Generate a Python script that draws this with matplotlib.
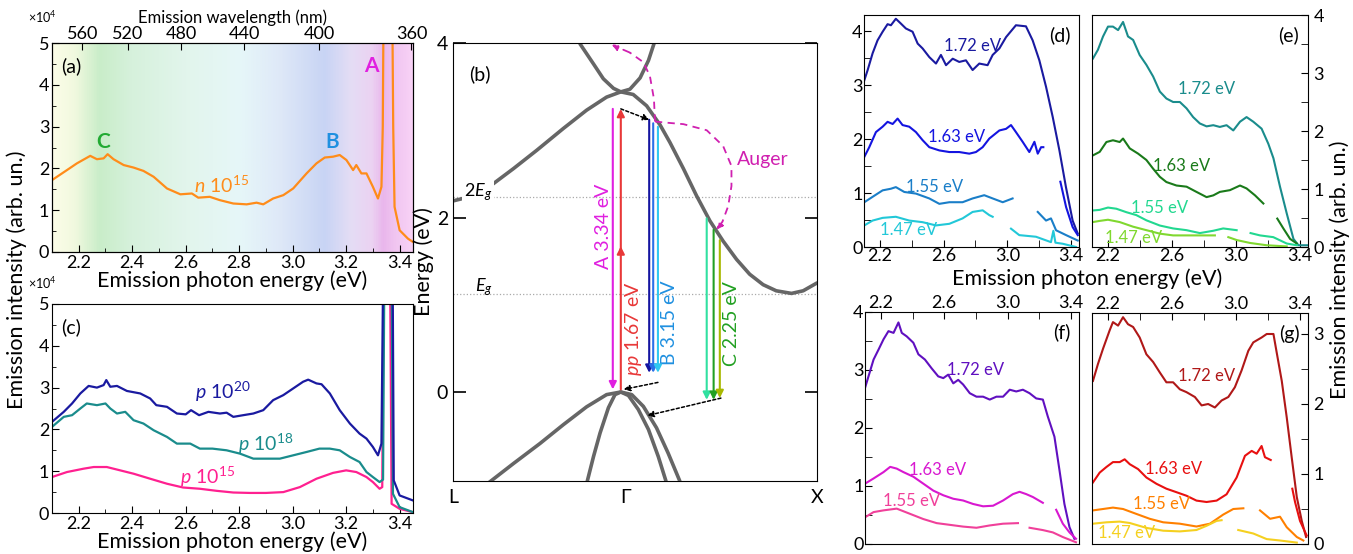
import numpy as np
import matplotlib
matplotlib.use("Agg")
import matplotlib.pyplot as plt
from matplotlib.colors import LinearSegmentedColormap
from matplotlib.ticker import MultipleLocator

plt.rcParams['font.family'] = ['Lato', 'DejaVu Sans']
plt.rcParams['mathtext.fontset'] = 'custom'
plt.rcParams['mathtext.rm'] = 'Lato'
plt.rcParams['mathtext.it'] = 'Lato:italic'
plt.rcParams['xtick.direction'] = 'in'
plt.rcParams['ytick.direction'] = 'in'

# ---------------- panel (a): n 1e15 spectrum (units of 1e4)
a_E = [2.10, 2.156, 2.193, 2.243, 2.268, 2.293, 2.308, 2.33, 2.368, 2.405, 2.442, 2.48, 2.53, 2.58,
       2.623, 2.647, 2.69, 2.728, 2.778, 2.828, 2.865, 2.89, 2.927, 2.965, 3.002, 3.052, 3.089, 3.12,
       3.151, 3.176, 3.201, 3.226, 3.238, 3.257, 3.276, 3.30, 3.319, 3.332, 3.337, 3.342, 3.37, 3.376,
       3.381, 3.40, 3.431, 3.45]
a_I = [1.72, 1.96, 2.12, 2.30, 2.22, 2.24, 2.34, 2.22, 2.08, 2.02, 1.94, 1.80, 1.52, 1.38,
       1.40, 1.30, 1.32, 1.24, 1.16, 1.14, 1.18, 1.14, 1.28, 1.36, 1.52, 1.88, 2.12, 2.26,
       2.28, 2.32, 2.20, 1.96, 2.08, 1.88, 1.88, 1.56, 1.28, 1.56, 3.0, 8.0, 8.0, 3.0,
       1.08, 0.52, 0.32, 0.24]
wl_ticks = [560, 520, 480, 440, 400, 360]

# ---------------- panel (c): p-type spectra
c_E20 = [2.10, 2.144, 2.175, 2.206, 2.237, 2.268, 2.293, 2.303, 2.318, 2.343, 2.38, 2.43, 2.467, 2.49,
         2.53, 2.567, 2.60, 2.62, 2.65, 2.685, 2.728, 2.753, 2.778, 2.815, 2.853, 2.89, 2.927, 2.965,
         3.002, 3.039, 3.058, 3.089, 3.108, 3.139, 3.176, 3.214, 3.25, 3.276, 3.30, 3.319, 3.332,
         3.342, 3.35, 3.372, 3.378, 3.40, 3.45]
c_I20 = [2.18, 2.42, 2.62, 2.86, 3.04, 3.00, 3.06, 3.18, 3.02, 3.04, 2.92, 2.86, 2.74, 2.58,
         2.54, 2.38, 2.36, 2.46, 2.34, 2.42, 2.38, 2.40, 2.30, 2.34, 2.38, 2.46, 2.70, 2.82,
         2.98, 3.14, 3.19, 3.10, 3.08, 2.86, 2.46, 2.14, 1.90, 1.78, 1.58, 1.38, 1.66,
         8.0, 8.0, 8.0, 0.78, 0.42, 0.30]
c_E18 = [2.10, 2.144, 2.175, 2.206, 2.23, 2.268, 2.30, 2.318, 2.343, 2.374, 2.405, 2.442, 2.48, 2.53,
         2.567, 2.617, 2.653, 2.70, 2.753, 2.803, 2.853, 2.90, 2.952, 3.002, 3.052, 3.10, 3.139,
         3.176, 3.214, 3.25, 3.276, 3.30, 3.325, 3.338, 3.345, 3.368, 3.375, 3.40, 3.45]
c_I18 = [2.06, 2.30, 2.34, 2.50, 2.62, 2.58, 2.62, 2.50, 2.38, 2.42, 2.22, 2.14, 1.98, 1.82,
         1.66, 1.66, 1.54, 1.54, 1.50, 1.42, 1.30, 1.30, 1.30, 1.38, 1.46, 1.54, 1.54,
         1.50, 1.34, 1.22, 0.98, 0.86, 0.74, 0.80, 8.0, 8.0, 0.46, 0.14, 0.02]
c_E15 = [2.10, 2.156, 2.218, 2.256, 2.305, 2.355, 2.405, 2.467, 2.53, 2.59, 2.653, 2.716, 2.778, 2.84,
         2.90, 2.965, 3.027, 3.089, 3.151, 3.20, 3.238, 3.276, 3.30, 3.325, 3.335, 3.342, 3.362,
         3.37, 3.40, 3.45]
c_I15 = [0.86, 0.98, 1.06, 1.10, 1.10, 1.02, 0.94, 0.82, 0.70, 0.61, 0.58, 0.53, 0.49, 0.48,
         0.48, 0.50, 0.62, 0.82, 0.96, 1.02, 0.98, 0.86, 0.74, 0.58, 0.62, 8.0, 8.0,
         0.22, 0.10, 0.02]

# ---------------- panel (b): bands of Si along L-Gamma-X (k normalised 0..1)
k_gamma = 0.461
cb1_k = [0.0, 0.029, 0.066, 0.102, 0.166, 0.230, 0.303, 0.367, 0.422, 0.461, 0.495, 0.532, 0.569,
         0.596, 0.633, 0.669, 0.706, 0.742, 0.779, 0.815, 0.852, 0.888, 0.930, 0.962, 1.0]
cb1_E = [2.19, 2.22, 2.28, 2.36, 2.56, 2.77, 3.02, 3.23, 3.38, 3.44, 3.41, 3.28, 3.06,
         2.86, 2.56, 2.25, 1.96, 1.73, 1.52, 1.35, 1.23, 1.16, 1.13, 1.16, 1.25]
cb2_k = [0.349, 0.386, 0.413, 0.441, 0.461, 0.486, 0.514, 0.537, 0.552]
cb2_E = [3.99, 3.76, 3.59, 3.48, 3.44, 3.47, 3.60, 3.80, 3.99]
hh_k = [0.098, 0.166, 0.239, 0.303, 0.367, 0.422, 0.461, 0.491, 0.523, 0.559, 0.591, 0.623]
hh_E = [-1.04, -0.82, -0.59, -0.375, -0.17, -0.03, 0.0, -0.03, -0.165, -0.41, -0.70, -1.02]
lh_k = [0.369, 0.386, 0.404, 0.427, 0.445, 0.461, 0.482, 0.509, 0.537, 0.564, 0.585]
lh_E = [-1.02, -0.74, -0.47, -0.18, -0.03, 0.0, -0.04, -0.20, -0.43, -0.74, -1.02]
Eg = 1.12
auger1_k = [0.555, 0.552, 0.541, 0.523, 0.486, 0.436]
auger1_E = [3.10, 3.36, 3.62, 3.78, 3.89, 3.98]
auger2_k = [0.555, 0.578, 0.633, 0.697, 0.742, 0.765, 0.765, 0.756, 0.740, 0.724]
auger2_E = [3.10, 3.09, 3.07, 3.00, 2.82, 2.59, 2.36, 2.13, 1.95, 1.86]

# ---------------- panels (d)-(g): two-photon excited spectra
d_E172 = [2.102, 2.123, 2.154, 2.185, 2.217, 2.248, 2.269, 2.30, 2.332, 2.363, 2.405, 2.437, 2.468,
          2.51, 2.552, 2.583, 2.615, 2.657, 2.698, 2.74, 2.782, 2.824, 2.876, 2.908, 2.95, 2.992,
          3.054, 3.117, 3.159, 3.201, 3.243, 3.285, 3.327, 3.368, 3.41, 3.442]
d_I172 = [3.09, 3.28, 3.59, 3.83, 3.99, 4.13, 4.11, 4.23, 4.14, 4.05, 3.99, 3.77, 3.68,
          3.52, 3.40, 3.56, 3.37, 3.49, 3.43, 3.46, 3.28, 3.40, 3.37, 3.56, 3.68, 3.89,
          4.11, 4.09, 3.83, 3.46, 2.97, 2.41, 1.79, 1.11, 0.49, 0.25]
d_E163 = [2.102, 2.133, 2.175, 2.217, 2.248, 2.28, 2.311, 2.342, 2.384, 2.426, 2.468, 2.51, 2.573,
          2.636, 2.698, 2.761, 2.803, 2.845, 2.887, 2.95, 2.992, 3.023, 3.054, 3.096, 3.138, 3.17,
          3.191, 3.212, 3.226]
d_I163 = [1.67, 1.85, 2.13, 2.23, 2.32, 2.28, 2.38, 2.26, 2.23, 2.13, 1.98, 1.85, 1.79,
          1.76, 1.76, 1.73, 1.76, 1.85, 2.01, 2.16, 2.19, 2.26, 2.13, 1.95, 1.76, 1.95,
          1.73, 1.85, 1.85]
d_E163t = [3.333, 3.369, 3.41, 3.442]
d_I163t = [1.21, 0.74, 0.37, 0.22]
d_E155 = [2.102, 2.154, 2.217, 2.269, 2.30, 2.353, 2.426, 2.51, 2.573, 2.636, 2.719, 2.782, 2.855,
          2.908, 2.971, 3.033]
d_I155 = [0.83, 0.93, 1.05, 1.08, 1.11, 1.02, 0.99, 0.90, 0.80, 0.83, 0.83, 0.90, 0.96,
          0.90, 0.83, 0.90]
d_E155t = [3.191, 3.243, 3.274, 3.306, 3.369, 3.442]
d_I155t = [0.65, 0.49, 0.53, 0.31, 0.22, 0.12]
d_E147 = [2.102, 2.154, 2.217, 2.30, 2.384, 2.468, 2.552, 2.636, 2.719, 2.782, 2.845, 2.887, 2.908]
d_I147 = [0.40, 0.49, 0.54, 0.56, 0.49, 0.46, 0.40, 0.43, 0.53, 0.65, 0.68, 0.59, 0.56]
d_E147t = [3.023, 3.075, 3.18, 3.274, 3.289, 3.302, 3.348, 3.431]
d_I147t = [0.34, 0.22, 0.19, 0.09, 0.30, 0.08, 0.06, 0.0]

e_E172 = [2.106, 2.137, 2.169, 2.20, 2.231, 2.263, 2.294, 2.325, 2.357, 2.398, 2.44, 2.482, 2.524,
          2.565, 2.607, 2.649, 2.691, 2.732, 2.774, 2.816, 2.858, 2.899, 2.941, 2.983, 3.025,
          3.066, 3.108, 3.16, 3.202, 3.234, 3.275, 3.317, 3.359, 3.39, 3.448]
e_I172 = [3.25, 3.40, 3.63, 3.80, 3.80, 3.74, 3.88, 3.63, 3.57, 3.31, 3.14, 2.94, 2.68,
          2.56, 2.50, 2.50, 2.39, 2.24, 2.13, 2.08, 2.10, 2.07, 2.10, 2.01, 2.16,
          2.24, 2.16, 2.04, 1.78, 1.53, 1.04, 0.58, 0.14, 0.03, 0.03]
e_E163 = [2.106, 2.148, 2.19, 2.231, 2.273, 2.294, 2.336, 2.388, 2.44, 2.482, 2.524, 2.565, 2.628,
          2.691, 2.753, 2.816, 2.858, 2.899, 2.962, 3.025, 3.066, 3.119, 3.171]
e_I163 = [1.58, 1.64, 1.81, 1.84, 1.81, 1.87, 1.70, 1.61, 1.50, 1.35, 1.21, 1.12, 1.06,
          1.04, 0.95, 0.86, 0.89, 0.95, 0.98, 1.06, 1.01, 0.89, 0.75]
e_E163t = [3.258, 3.296, 3.338, 3.38]
e_I163t = [0.49, 0.32, 0.14, 0.06]
e_E155 = [2.106, 2.148, 2.20, 2.252, 2.315, 2.377, 2.44, 2.524, 2.607, 2.691, 2.774, 2.858, 2.92, 3.004]
e_I155 = [0.63, 0.64, 0.68, 0.66, 0.60, 0.55, 0.46, 0.37, 0.32, 0.29, 0.24, 0.28, 0.32, 0.29]
e_E155t = [3.091, 3.15, 3.233, 3.317, 3.38]
e_I155t = [0.24, 0.20, 0.17, 0.06, 0.03]
e_E147 = [2.106, 2.148, 2.20, 2.273, 2.357, 2.44, 2.524, 2.607, 2.691, 2.774, 2.868]
e_I147 = [0.43, 0.45, 0.47, 0.43, 0.35, 0.29, 0.23, 0.20, 0.20, 0.20, 0.20]
e_E147t = [2.952, 3.004, 3.087, 3.192, 3.317]
e_I147t = [0.17, 0.12, 0.07, 0.03, 0.01]

f_E172 = [2.10, 2.122, 2.154, 2.185, 2.217, 2.248, 2.28, 2.311, 2.332, 2.363, 2.405, 2.437, 2.478,
          2.52, 2.562, 2.594, 2.625, 2.657, 2.688, 2.719, 2.761, 2.803, 2.845, 2.887, 2.929, 2.971,
          3.013, 3.054, 3.096, 3.138, 3.18, 3.222, 3.253, 3.295, 3.327, 3.358, 3.39, 3.421]
f_I172 = [2.69, 2.89, 3.18, 3.35, 3.53, 3.67, 3.64, 3.82, 3.64, 3.58, 3.47, 3.27, 3.18,
          3.03, 2.89, 2.86, 2.92, 2.77, 2.83, 2.75, 2.60, 2.54, 2.54, 2.49, 2.54, 2.54,
          2.66, 2.63, 2.66, 2.60, 2.51, 2.49, 2.20, 1.85, 1.27, 0.69, 0.29, 0.09]
f_E163 = [2.10, 2.154, 2.217, 2.259, 2.30, 2.342, 2.405, 2.468, 2.531, 2.594, 2.657, 2.719, 2.782,
          2.845, 2.908, 2.971, 3.033, 3.075, 3.117, 3.159, 3.222]
f_I163 = [1.04, 1.13, 1.24, 1.33, 1.30, 1.24, 1.16, 1.04, 0.92, 0.84, 0.78, 0.75, 0.69,
          0.65, 0.66, 0.75, 0.86, 0.90, 0.86, 0.81, 0.71]
f_E163t = [3.306, 3.348, 3.39, 3.431]
f_I163t = [0.59, 0.35, 0.20, 0.09]
f_E155 = [2.10, 2.154, 2.217, 2.30, 2.384, 2.468, 2.552, 2.636, 2.719, 2.803, 2.887, 2.971, 3.065]
f_I155 = [0.46, 0.55, 0.58, 0.61, 0.52, 0.43, 0.36, 0.33, 0.30, 0.28, 0.32, 0.35, 0.36]
f_E155t = [3.138, 3.222, 3.285, 3.348, 3.431]
f_I155t = [0.28, 0.24, 0.20, 0.12, 0.03]

g_E172 = [2.106, 2.137, 2.169, 2.21, 2.231, 2.263, 2.294, 2.325, 2.357, 2.398, 2.44, 2.482, 2.524,
          2.565, 2.607, 2.649, 2.69, 2.743, 2.785, 2.826, 2.868, 2.91, 2.952, 2.993, 3.035, 3.077,
          3.108, 3.16, 3.192, 3.234, 3.254, 3.286, 3.317, 3.348, 3.38, 3.411, 3.438]
g_I172 = [2.33, 2.57, 2.79, 3.05, 3.17, 3.12, 3.24, 3.14, 3.10, 2.95, 2.71, 2.60, 2.45,
          2.31, 2.31, 2.21, 2.17, 2.10, 1.98, 2.00, 1.95, 2.05, 2.10, 2.24, 2.48, 2.76,
          2.88, 2.95, 3.00, 3.00, 2.74, 2.33, 1.81, 1.24, 0.67, 0.33, 0.10]
g_E163 = [2.106, 2.148, 2.19, 2.231, 2.273, 2.304, 2.336, 2.388, 2.44, 2.503, 2.565, 2.628, 2.69,
          2.753, 2.816, 2.879, 2.941, 3.004, 3.056, 3.098, 3.129, 3.16, 3.181, 3.217]
g_I163 = [0.88, 1.02, 1.10, 1.17, 1.17, 1.21, 1.14, 1.07, 0.95, 0.86, 0.79, 0.74, 0.69,
          0.62, 0.60, 0.62, 0.71, 0.95, 1.26, 1.33, 1.29, 1.40, 1.24, 1.20]
g_E163t = [3.352, 3.369, 3.40, 3.442]
g_I163t = [0.79, 0.60, 0.33, 0.12]
g_E155 = [2.106, 2.169, 2.231, 2.294, 2.377, 2.461, 2.545, 2.649, 2.753, 2.837, 2.92, 2.983, 3.046]
g_I155 = [0.48, 0.50, 0.52, 0.50, 0.43, 0.36, 0.31, 0.29, 0.25, 0.29, 0.42, 0.50, 0.51]
g_E155t = [3.15, 3.213, 3.275, 3.317, 3.38, 3.421]
g_I155t = [0.48, 0.36, 0.39, 0.24, 0.10, 0.05]
g_E147 = [2.106, 2.19, 2.273, 2.336, 2.44, 2.545, 2.649, 2.753, 2.816, 2.879, 2.91]
g_I147 = [0.29, 0.31, 0.32, 0.30, 0.23, 0.19, 0.18, 0.20, 0.26, 0.33, 0.34]
g_E147t = [3.014, 3.108, 3.192, 3.275, 3.38]
g_I147t = [0.20, 0.15, 0.07, 0.05, 0.02]

W, H = 1353, 554
fig = plt.figure(figsize=(W / 100, H / 100), dpi=100)


def px_axes(l, t, r, b):
    return fig.add_axes([l / W, 1 - b / H, (r - l) / W, (b - t) / H])


TICK = 13
LAB = 15.5

# ---------- (a)
ax_a = px_axes(52, 43, 413, 252)
bg = LinearSegmentedColormap.from_list('spec', [
    (0.0, '#fcfde8'), (0.06, '#f1f9df'), (0.13, '#c9edc9'), (0.22, '#d6f1dc'),
    (0.37, '#e2f5ec'), (0.52, '#e6f7f8'), (0.63, '#dfe9f8'), (0.757, '#c8d4f4'),
    (0.83, '#e4ddf5'), (0.89, '#ecd2f2'), (0.92, '#e9b6ec'), (0.95, '#f0c4f0'), (1.0, '#f8d2f6')])
ax_a.imshow(np.linspace(0, 1, 400)[None, :], cmap=bg, aspect='auto',
            extent=[2.1, 3.45, 0, 5], zorder=0)
ax_a.plot(a_E, a_I, color='#ff8c1a', lw=1.6, zorder=2)
ax_a.set_xlim(2.1, 3.45)
ax_a.set_ylim(0, 5)
ax_a.xaxis.set_major_locator(MultipleLocator(0.2))
ax_a.xaxis.set_minor_locator(MultipleLocator(0.1))
ax_a.yaxis.set_major_locator(MultipleLocator(1))
ax_a.yaxis.set_minor_locator(MultipleLocator(0.5))
ax_a.tick_params(labelsize=TICK, length=5, top=False, pad=2)
ax_a.tick_params(which='minor', length=3, top=False)
ax_a.set_xlabel('Emission photon energy (eV)', fontsize=LAB, labelpad=0)
ax_a.text(0.025, 0.93, '(a)', transform=ax_a.transAxes, fontsize=14, va='top')
ax_a.text(2.29, 2.62, 'C', color='#22aa33', fontsize=15, fontweight='bold', ha='center', va='center')
ax_a.text(3.149, 2.62, 'B', color='#2090e0', fontsize=15, fontweight='bold', ha='center', va='center')
ax_a.text(3.295, 4.45, 'A', color='#e020e0', fontsize=15, fontweight='bold', ha='center', va='center')
ax_a.text(2.735, 1.6, r'$\mathit{n}$ 10$^{15}$', color='#ff8c1a', fontsize=14, ha='center', va='center')
top = ax_a.twiny()
top.set_xlim(2.1, 3.45)
top.set_xticks([1239.84 / w for w in wl_ticks])
top.set_xticklabels([str(w) for w in wl_ticks])
top.tick_params(labelsize=TICK, length=5, pad=1)
top.set_xlabel('Emission wavelength (nm)', fontsize=12, labelpad=2)
fig.text(28 / W, 1 - 17 / H, '×10$^4$', fontsize=9, va='center')

# ---------- (c)
ax_c = px_axes(52, 304, 413, 513)
ax_c.plot(c_E15, c_I15, color='#ff2090', lw=1.6)
ax_c.plot(c_E18, c_I18, color='#1a8c8c', lw=1.6)
ax_c.plot(c_E20, c_I20, color='#1a1aa0', lw=1.6)
ax_c.set_xlim(2.1, 3.45)
ax_c.set_ylim(0, 5)
ax_c.xaxis.set_major_locator(MultipleLocator(0.2))
ax_c.xaxis.set_minor_locator(MultipleLocator(0.1))
ax_c.yaxis.set_major_locator(MultipleLocator(1))
ax_c.yaxis.set_minor_locator(MultipleLocator(0.5))
ax_c.tick_params(labelsize=TICK, length=5, pad=2)
ax_c.tick_params(which='minor', length=3)
ax_c.set_xlabel('Emission photon energy (eV)', fontsize=LAB, labelpad=0)
ax_c.text(0.025, 0.93, '(c)', transform=ax_c.transAxes, fontsize=14, va='top')
ax_c.text(2.74, 2.9, r'$\mathit{p}$ 10$^{20}$', color='#1a1aa0', fontsize=14, ha='center', va='center')
ax_c.text(2.90, 1.66, r'$\mathit{p}$ 10$^{18}$', color='#1a8c8c', fontsize=14, ha='center', va='center')
ax_c.text(2.68, 0.86, r'$\mathit{p}$ 10$^{15}$', color='#ff2090', fontsize=14, ha='center', va='center')
fig.text(28 / W, 1 - 283 / H, '×10$^4$', fontsize=9, va='center')
fig.text(17 / W, 1 - 280 / H, 'Emission intensity (arb. un.)', rotation=90,
         fontsize=LAB, ha='center', va='center')

# ---------- (b)
ax_b = px_axes(453, 43, 817, 481)
band = dict(color='#666666', lw=2.6, solid_capstyle='round', zorder=2)
ax_b.plot(cb1_k, cb1_E, **band)
ax_b.plot(cb2_k, cb2_E, **band)
ax_b.plot(hh_k, hh_E, **band)
ax_b.plot(lh_k, lh_E, **band)
ax_b.axhline(2 * Eg, color='#aaaaaa', ls=':', lw=0.9, zorder=1)
ax_b.axhline(Eg, color='#aaaaaa', ls=':', lw=0.9, zorder=1)
ax_b.text(0.03, 2 * Eg + 0.05, '$2E_g$', fontsize=13, va='center',
          bbox=dict(facecolor='white', edgecolor='none', pad=1), zorder=3)
ax_b.text(0.06, Eg + 0.08, '$E_g$', fontsize=13, va='center')
ax_b.set_xlim(0, 1)
ax_b.set_ylim(-1.02, 4)
ax_b.set_yticks([0, 2, 4])
ax_b.set_xticks([0, k_gamma + 0.012, 1])
ax_b.set_xticklabels(['L', 'Γ', 'X'], fontsize=14)
ax_b.tick_params(axis='x', length=0, pad=6)
ax_b.tick_params(axis='y', labelsize=TICK + 1, length=9, right=True, width=1.2)
ax_b.set_ylabel('Energy (eV)', fontsize=LAB, labelpad=2)
ax_b.text(0.045, 0.95, '(b)', transform=ax_b.transAxes, fontsize=14, va='top')


def arrow(ax, x0, y0, x1, y1, c, lw=1.5, ls='-', ms=11):
    ax.annotate('', xy=(x1, y1), xytext=(x0, y0),
                arrowprops=dict(arrowstyle='-|>', color=c, lw=lw, ls=ls,
                                mutation_scale=ms, shrinkA=0, shrinkB=0), zorder=4)


arrow(ax_b, 0.439, 3.245, 0.439, 0.03, '#e020e0')
arrow(ax_b, 0.461, 0.03, 0.461, 1.67, '#e83838')
arrow(ax_b, 0.461, 1.60, 0.461, 3.245, '#e83838')
arrow(ax_b, 0.539, 3.12, 0.539, 0.22, '#1414a0')
arrow(ax_b, 0.550, 3.08, 0.550, 0.22, '#2a70e8')
arrow(ax_b, 0.563, 3.04, 0.563, 0.22, '#30c8f0')
arrow(ax_b, 0.697, 1.99, 0.697, -0.09, '#30e0a0')
arrow(ax_b, 0.716, 1.86, 0.716, -0.09, '#22a022')
arrow(ax_b, 0.733, 1.74, 0.733, -0.07, '#a8b800')
arrow(ax_b, 0.461, 3.245, 0.539, 3.12, 'black', lw=1.1, ls=(0, (2, 1.5)), ms=9)
arrow(ax_b, 0.563, 0.11, 0.469, 0.03, 'black', lw=1.1, ls=(0, (2, 1.5)), ms=9)
arrow(ax_b, 0.736, -0.07, 0.534, -0.27, 'black', lw=1.1, ls=(0, (2, 1.5)), ms=9)
ax_b.plot(auger1_k[:-1], auger1_E[:-1], color='#d020b0', lw=1.3, ls=(0, (4, 3)), zorder=3)
ax_b.plot(auger2_k[:-1], auger2_E[:-1], color='#d020b0', lw=1.3, ls=(0, (4, 3)), zorder=3)
arrow(ax_b, auger1_k[-2], auger1_E[-2], auger1_k[-1], auger1_E[-1], '#d020b0', lw=1.3, ls=(0, (4, 3)), ms=9)
arrow(ax_b, auger2_k[-2], auger2_E[-2], auger2_k[-1], auger2_E[-1], '#d020b0', lw=1.3, ls=(0, (4, 3)), ms=9)
ax_b.text(0.852, 2.66, 'Auger', color='#d020b0', fontsize=14, ha='center', va='center')
ax_b.text(0.413, 1.90, 'A 3.34 eV', color='#e020e0', fontsize=14, rotation=90, ha='center', va='center')
ax_b.text(0.497, 0.72, r'$\mathit{pp}$ 1.67 eV', color='#e83838', fontsize=14, rotation=90,
          ha='center', va='center')
ax_b.text(0.594, 0.79, 'B 3.15 eV', color='#2090e0', fontsize=14, rotation=90, ha='center', va='center')
ax_b.text(0.765, 0.79, 'C 2.25 eV', color='#22a022', fontsize=14, rotation=90, ha='center', va='center')

# ---------- (d)-(g)
small = [
    ('d', (864, 15, 1079, 247), 4.3, 'left', 'bottom',
     [(d_E172, d_I172, '#1a1aa0'), (d_E163, d_I163, '#1414e0'), (d_E163t, d_I163t, '#1414e0'),
      (d_E155, d_I155, '#1a7ec8'), (d_E155t, d_I155t, '#1a7ec8'),
      (d_E147, d_I147, '#22c8d8'), (d_E147t, d_I147t, '#22c8d8')],
     [(2.78, 3.72, '1.72 eV', '#1a1aa0'), (2.68, 2.04, '1.63 eV', '#1414e0'),
      (2.54, 1.11, '1.55 eV', '#1a7ec8'), (2.38, 0.31, '1.47 eV', '#22c8d8')]),
    ('e', (1092, 15, 1308, 247), 4.0, 'right', 'bottom',
     [(e_E172, e_I172, '#1a8c8c'), (e_E163, e_I163, '#1a7a1a'), (e_E163t, e_I163t, '#1a7a1a'),
      (e_E155, e_I155, '#22d890'), (e_E155t, e_I155t, '#22d890'),
      (e_E147, e_I147, '#80d830'), (e_E147t, e_I147t, '#80d830')],
     [(2.816, 2.73, '1.72 eV', '#1a8c8c'), (2.66, 1.39, '1.63 eV', '#1a7a1a'),
      (2.52, 0.68, '1.55 eV', '#22d890'), (2.36, 0.16, '1.47 eV', '#80d830')]),
    ('f', (865, 312, 1079, 544), 4.0, 'left', 'top',
     [(f_E172, f_I172, '#6010c0'), (f_E163, f_I163, '#d818d0'), (f_E163t, f_I163t, '#d818d0'),
      (f_E155, f_I155, '#f0409a'), (f_E155t, f_I155t, '#f0409a')],
     [(2.80, 3.0, '1.72 eV', '#6010c0'), (2.56, 1.27, '1.63 eV', '#d818d0'),
      (2.395, 0.75, '1.55 eV', '#f0409a')]),
    ('g', (1092, 313, 1308, 544), 3.3, 'right', 'top',
     [(g_E172, g_I172, '#b01818'), (g_E163, g_I163, '#e81010'), (g_E163t, g_I163t, '#e81010'),
      (g_E155, g_I155, '#ff8000'), (g_E155t, g_I155t, '#ff8000'),
      (g_E147, g_I147, '#f5d020'), (g_E147t, g_I147t, '#f5d020')],
     [(2.816, 2.40, '1.72 eV', '#b01818'), (2.607, 1.07, '1.63 eV', '#e81010'),
      (2.534, 0.57, '1.55 eV', '#ff8000'), (2.315, 0.15, '1.47 eV', '#f5d020')]),
]

for name, box, ytop, yside, xside, lines, labels in small:
    ax = px_axes(*box)
    for xs, ys, col in lines:
        ax.plot(xs, ys, color=col, lw=1.5)
    for x, y, s, col in labels:
        ax.text(x, y, s, color=col, fontsize=12, ha='center', va='center')
    ax.set_xlim(2.1, 3.45)
    ax.set_ylim(0, ytop)
    ax.set_xticks([2.2, 2.6, 3.0, 3.4])
    ax.set_xticks([2.4, 2.8, 3.2], minor=True)
    ax.yaxis.set_major_locator(MultipleLocator(1))
    ax.yaxis.set_minor_locator(MultipleLocator(0.5))
    ax.tick_params(which='both', length=5, labelsize=TICK, pad=1,
                   left=(yside == 'left'), right=(yside == 'right'),
                   labelleft=(yside == 'left'), labelright=(yside == 'right'),
                   bottom=(xside == 'bottom'), top=(xside == 'top'),
                   labelbottom=(xside == 'bottom'), labeltop=(xside == 'top'))
    if yside == 'right':
        ax.tick_params(axis='y', pad=4)
    ax.text(0.96, 0.95, '(%s)' % name, transform=ax.transAxes, fontsize=14, ha='right', va='top')

fig.text(1087 / W, 1 - 279 / H, 'Emission photon energy (eV)', fontsize=LAB, ha='center', va='center')
fig.text(1340 / W, 1 - 270 / H, 'Emission intensity (arb. un.)', rotation=90,
         fontsize=LAB, ha='center', va='center')

fig.savefig('out.png', dpi=100)
